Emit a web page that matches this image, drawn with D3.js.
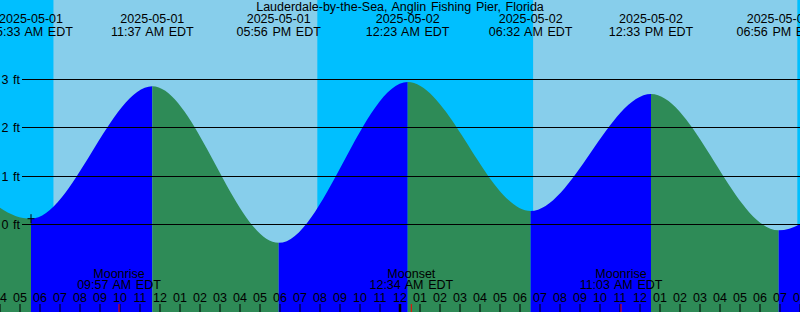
<!DOCTYPE html>
<html>
<head>
<meta charset="utf-8">
<script src="https://cdn.jsdelivr.net/npm/d3@7"></script>
<style>
  html, body { margin: 0; padding: 0; background: #87CEEB; }
  svg { display: block; }
  text { font-family: 'Liberation Sans', Arial, sans-serif; font-size: 12.5px; fill: #000; word-spacing: 1.2px; }
</style>
</head>
<body>
<svg id="chart" width="800" height="312"></svg>
<script>
// ---- data ----
const title = "Lauderdale-by-the-Sea, Anglin Fishing Pier, Florida";
const domainStart = "2025-05-01T04:00";
const domainEnd = "2025-05-02T20:00";

// tide extremes (first and last are just outside the visible window)
const tideTimes = ["2025-04-30T23:05", "2025-05-01T05:33", "2025-05-01T11:37", "2025-05-01T17:56",
                   "2025-05-02T00:23", "2025-05-02T06:32", "2025-05-02T12:33", "2025-05-02T18:56",
                   "2025-05-03T01:10"];
const tideHeights = [3.0, 0.12, 2.86, -0.38, 2.95, 0.28, 2.70, -0.12, 2.9];
const tideLabeled = [false, true, true, true, true, true, true, true, false];

// sun events (night / day shading)
const sunTimes = ["2025-05-01T06:41", "2025-05-01T19:52", "2025-05-02T06:40", "2025-05-02T19:52"];
const sunKinds = ["Sunrise", "Sunset", "Sunrise", "Sunset"];

// moon events
const moonTimes = ["2025-05-01T09:57", "2025-05-02T00:34", "2025-05-02T11:03"];
const moonKinds = ["Moonrise", "Moonset", "Moonrise"];

// height axis ticks (ft)
const heightTicks = [0, 1, 2, 3];

// marker
const markTime = "2025-05-01T05:33";
const markHeight = 0.12;

// ---- colours ----
const NIGHT = "#00BFFF", DAY = "#87CEEB", FLOOD = "#0000FF", EBB = "#2E8B57";

const W = 800, H = 312;
const parse = d3.timeParse("%Y-%m-%dT%H:%M");
const svg = d3.select("#chart");

const x = d3.scaleTime().domain([parse(domainStart), parse(domainEnd)]).range([0, W]);
const y = d3.scaleLinear().domain([0, 3]).range([224.5, 79.5]);

const tides = tideTimes.map((t, i) => ({ t: parse(t), h: tideHeights[i], lab: tideLabeled[i] }));

// background: day / night
const bounds = [parse(domainStart), ...sunTimes.map(parse), parse(domainEnd)];
const bgKinds = ["night", "day", "night", "day", "night"];
svg.append("g").selectAll("rect").data(bgKinds).join("rect")
  .attr("x", (d, i) => x(bounds[i]))
  .attr("width", (d, i) => x(bounds[i + 1]) - x(bounds[i]))
  .attr("y", 0).attr("height", H)
  .attr("fill", d => d === "night" ? NIGHT : DAY);

// tide area, via clip path
const area = d3.area().x(d => x(d.t)).y0(H).y1(d => y(d.h)).curve(d3.curveMonotoneX);
svg.append("defs").append("clipPath").attr("id", "tideClip")
  .append("path").attr("d", area(tides));

const segs = d3.pairs(tides);
svg.append("g").attr("clip-path", "url(#tideClip)")
  .selectAll("rect").data(segs).join("rect")
  .attr("x", d => x(d[0].t))
  .attr("width", d => x(d[1].t) - x(d[0].t))
  .attr("y", 0).attr("height", H)
  .attr("fill", d => d[1].h > d[0].h ? FLOOD : EBB);

// gridlines + height labels
const grid = svg.append("g");
grid.selectAll("line").data(heightTicks).join("line")
  .attr("x1", 22).attr("x2", W)
  .attr("y1", d => Math.floor(y(d)) + 0.5).attr("y2", d => Math.floor(y(d)) + 0.5)
  .attr("stroke", "#000").attr("stroke-width", 1);
grid.selectAll("text").data(heightTicks).join("text")
  .attr("x", 20).attr("y", d => y(d) + 4.5)
  .attr("text-anchor", "end")
  .text(d => d + " ft");

// marker "+"
const mx = x(parse(markTime)), my = y(markHeight);
svg.append("path")
  .attr("d", `M${mx - 3.5},${my}H${mx + 3.5}M${mx},${my - 4.5}V${my + 4.5}`)
  .attr("stroke", "#000").attr("stroke-width", 1).attr("fill", "none");

// title
svg.append("text").attr("x", W / 2).attr("y", 11).attr("text-anchor", "middle").text(title);

// tide labels
const fDate = d3.timeFormat("%Y-%m-%d"), fTime = d3.timeFormat("%I:%M %p EDT");
const tl = svg.append("g").selectAll("g").data(tides.filter(d => d.lab)).join("g")
  .attr("transform", d => `translate(${x(d.t)},0)`);
tl.append("text").attr("y", 23).attr("text-anchor", "middle").text(d => fDate(d.t));
tl.append("text").attr("y", 35.5).attr("text-anchor", "middle").text(d => fTime(d.t));

// moon labels
const moons = moonTimes.map((t, i) => ({ t: parse(t), kind: moonKinds[i] }));
const ml = svg.append("g").selectAll("g").data(moons).join("g")
  .attr("transform", d => `translate(${x(d.t)},0)`);
ml.append("text").attr("y", 277.5).attr("text-anchor", "middle").text(d => d.kind);
ml.append("text").attr("y", 289.3).attr("text-anchor", "middle").text(d => fTime(d.t));

// hour axis
const hours = d3.timeHour.range(parse(domainStart), d3.timeHour.offset(parse(domainEnd), 1));
const fHour = d3.timeFormat("%I");
const ax = svg.append("g");
ax.selectAll("text").data(hours).join("text")
  .attr("x", d => x(d)).attr("y", 301.5).attr("text-anchor", "middle")
  .text(d => fHour(d));
ax.selectAll("line").data(hours).join("line")
  .attr("x1", d => x(d)).attr("x2", d => x(d))
  .attr("y1", 304).attr("y2", H)
  .attr("stroke", "#000")
  .attr("stroke-width", d => (d.getHours() === 0 ? 2.5 : 1));

// moon event ticks
svg.append("g").selectAll("line").data(moons).join("line")
  .attr("x1", d => x(d.t)).attr("x2", d => x(d.t))
  .attr("y1", 304).attr("y2", H)
  .attr("stroke", "#FF0000").attr("stroke-width", 1);
</script>
</body>
</html>
